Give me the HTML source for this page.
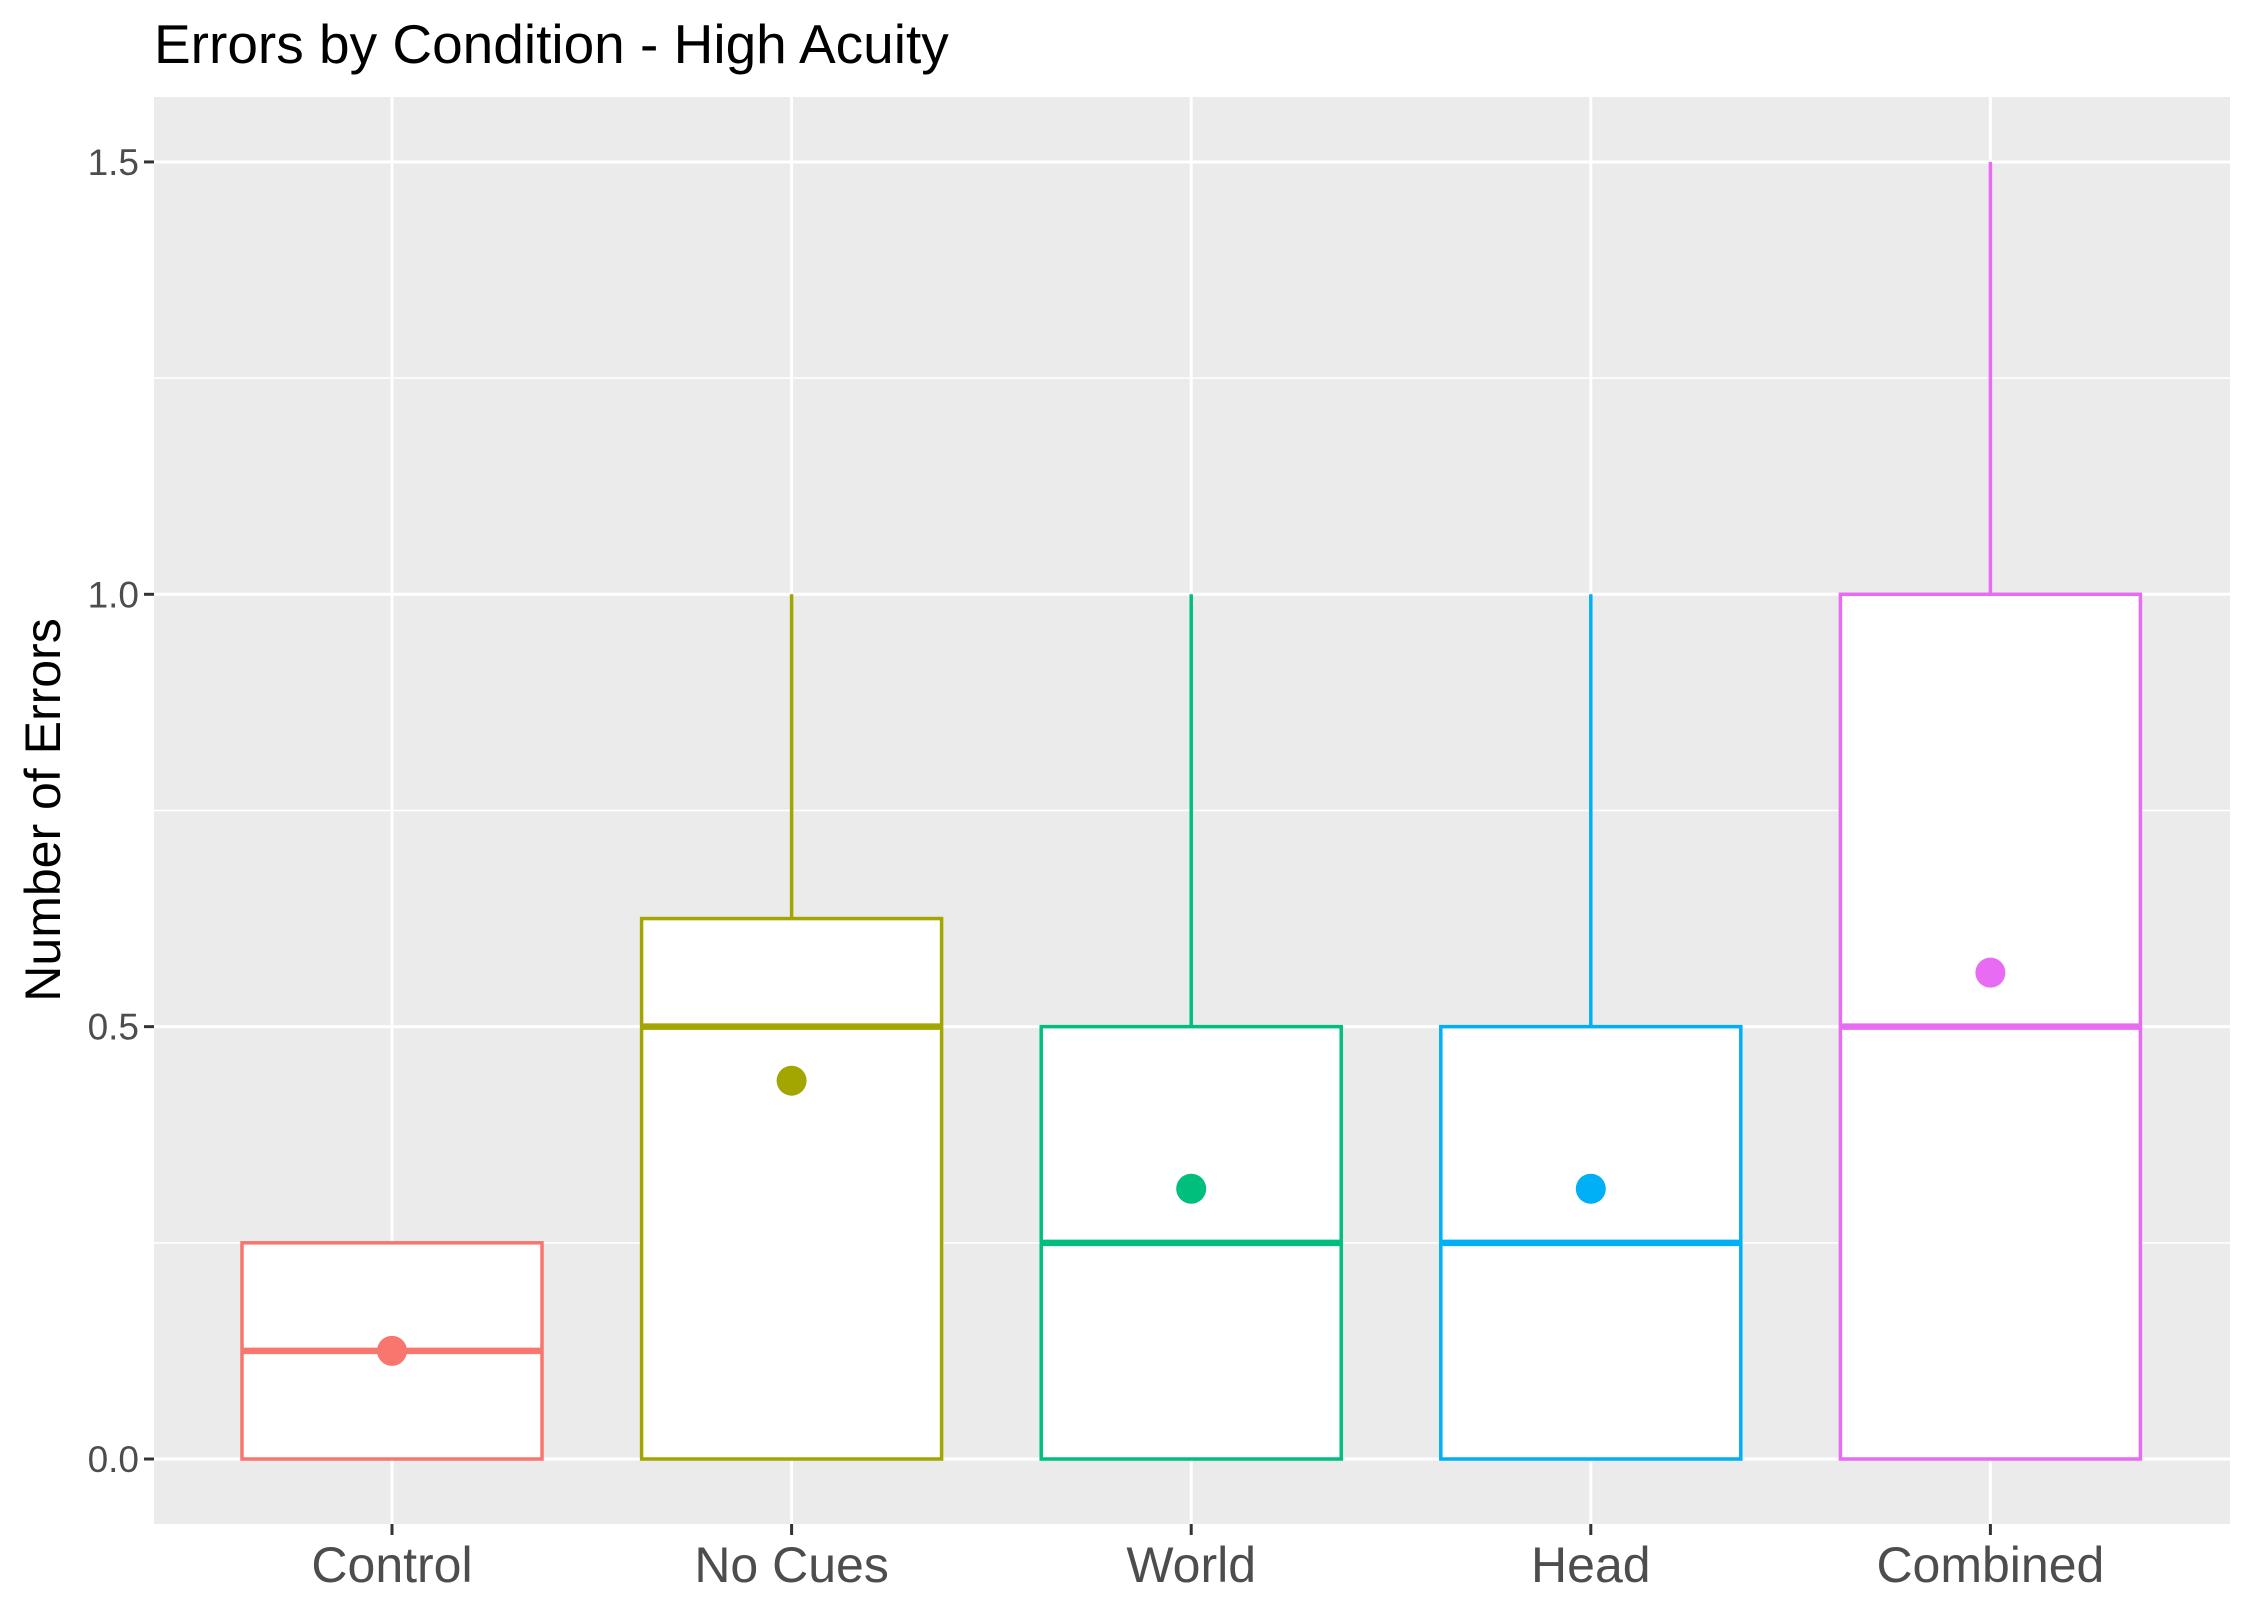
<!DOCTYPE html>
<html><head><meta charset="utf-8"><style>body{margin:0;background:#fff}svg{display:block}</style></head>
<body>
<svg id="chart" width="2253" height="1615" xmlns="http://www.w3.org/2000/svg" font-family="Liberation Sans, Arial, sans-serif">
<text x="154" y="63" font-size="55" fill="#000">Errors by Condition - High Acuity</text>
<rect x="154" y="97" width="2076" height="1427" fill="#ebebeb"/>
<g id="grid"></g><g id="marks"></g><g id="axes"></g>
<text transform="translate(60,810) rotate(-90)" text-anchor="middle" font-size="50" fill="#000">Number of Errors</text>
</svg>
<script>
const categories = ["Control","No Cues","World","Head","Combined"];
const colors = ["#F8766D","#A3A500","#00BF7D","#00B0F6","#E76BF3"];
const q1 = [0,0,0,0,0];
const q3 = [0.25,0.625,0.5,0.5,1];
const medians = [0.125,0.5,0.25,0.25,0.5];
const means = [0.125,0.4375,0.3125,0.3125,0.5625];
const whiskerLow = [0,0,0,0,0];
const whiskerHigh = [0.25,1,1,1,1.5];
const yTicks = [0,0.5,1,1.5];
const yTickLabels = ["0.0","0.5","1.0","1.5"];

const NS="http://www.w3.org/2000/svg";
const y = v => 1459 - v*864.7;
const x = i => 392 + i*399.6;
const halfW = 150;
function mk(tag, attrs, parent){const e=document.createElementNS(NS,tag);for(const k in attrs)e.setAttribute(k,attrs[k]);parent.appendChild(e);return e;}
const grid=document.getElementById('grid'), marks=document.getElementById('marks'), axes=document.getElementById('axes');
for(let t=0.25;t<1.5;t+=0.5){
  const l=mk('line',{x1:154,x2:2230,y1:y(t),y2:y(t),stroke:'#fff','stroke-width':1.5},grid);
  
  
}
yTicks.forEach((t,i)=>{
  const l=mk('line',{x1:154,x2:2230,y1:y(t),y2:y(t),stroke:'#fff','stroke-width':3},grid);
  
  
  const tk=mk('line',{x1:144,x2:154,y1:y(t),y2:y(t),stroke:'#333','stroke-width':3},axes);
  
  
  const tx=mk('text',{x:139,y:y(t)+13,'text-anchor':'end','font-size':37,fill:'#4d4d4d'},axes);
  tx.textContent=yTickLabels[i];
  
  
});
categories.forEach((c,i)=>{
  const cx=x(i), col=colors[i];
  const g=mk('line',{x1:cx,x2:cx,y1:97,y2:1524,stroke:'#fff','stroke-width':3},grid);
  
  
  const wh=mk('line',{x1:cx,x2:cx,y1:y(whiskerHigh[i]),y2:y(q3[i]),stroke:col,'stroke-width':3.5},marks);
  
  
  const wl=mk('line',{x1:cx,x2:cx,y1:y(q1[i]),y2:y(whiskerLow[i]),stroke:col,'stroke-width':3.5},marks);
  
  
  const b=mk('rect',{x:cx-halfW,y:y(q3[i]),width:2*halfW,height:y(q1[i])-y(q3[i]),fill:'#fff',stroke:col,'stroke-width':3.5},marks);
  
  
  const m=mk('line',{x1:cx-halfW,x2:cx+halfW,y1:y(medians[i]),y2:y(medians[i]),stroke:col,'stroke-width':6.5},marks);
  
  
  const p=mk('circle',{cx:cx,cy:y(means[i]),r:15,fill:col},marks);
  
  
  const tk=mk('line',{x1:cx,x2:cx,y1:1524,y2:1535,stroke:'#333','stroke-width':3},axes);
  
  
  const tx=mk('text',{x:cx,y:1582,'text-anchor':'middle','font-size':50,fill:'#4d4d4d'},axes);
  tx.textContent=c;
  
  
});
</script>
</body></html>
